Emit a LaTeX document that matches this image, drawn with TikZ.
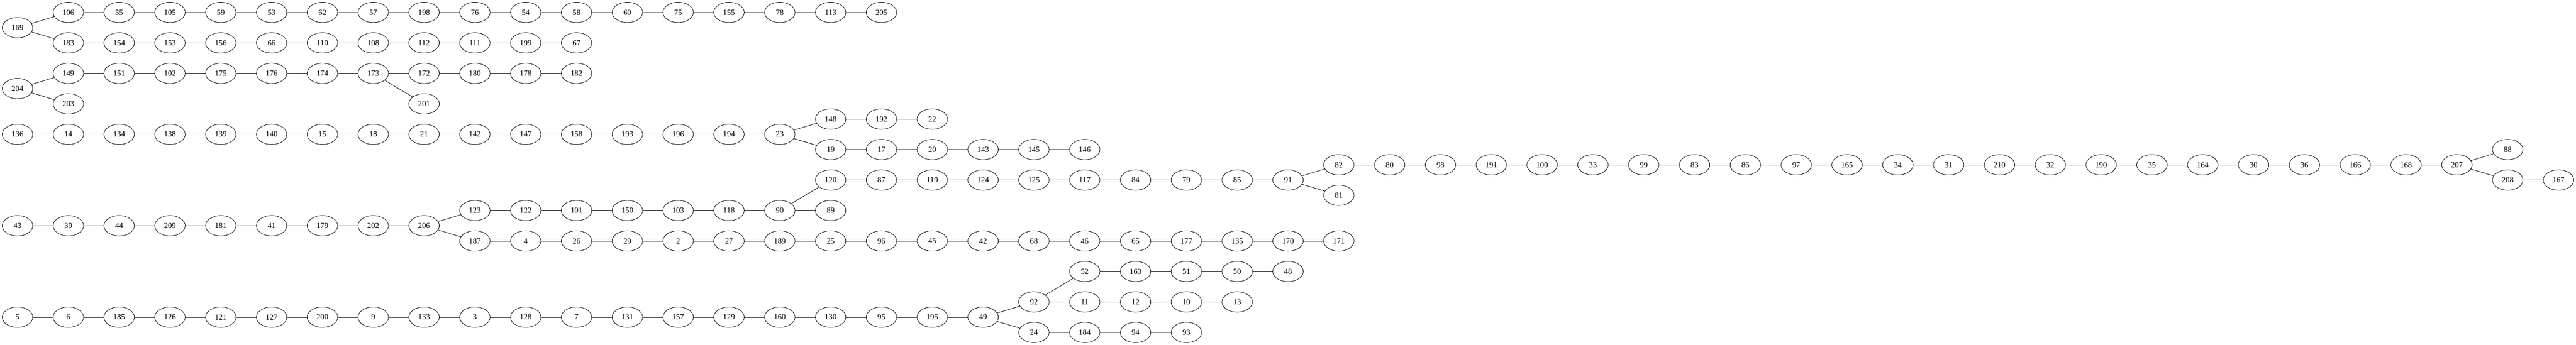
\documentclass[tikz,border=0pt]{standalone}
\usepackage{fontspec}
\setmainfont{Liberation Serif}
\usepackage{tikz}
\usetikzlibrary{shapes.geometric, positioning}

\begin{document}
\begin{tikzpicture}[
    x=90pt, y=-27pt,
    node distance=36pt,
    vert/.style={ellipse, draw, line width=0.75pt, minimum width=54pt, minimum height=36pt, inner sep=0pt, outer sep=0pt, font=\fontsize{14pt}{16pt}\selectfont},
    link/.style={draw, line width=0.75pt}
]
\useasboundingbox (-31pt,22pt) rectangle (4531pt,-589pt);

% Tree 169
\node[vert] (n169) at (0,1) {169};
\node[vert] (n106) at (1,0) {106};
\node[vert, right=of n106] (n55) {55};
\node[vert, right=of n55] (n105) {105};
\node[vert, right=of n105] (n59) {59};
\node[vert, right=of n59] (n53) {53};
\node[vert, right=of n53] (n62) {62};
\node[vert, right=of n62] (n57) {57};
\node[vert, right=of n57] (n198) {198};
\node[vert, right=of n198] (n76) {76};
\node[vert, right=of n76] (n54) {54};
\node[vert, right=of n54] (n58) {58};
\node[vert, right=of n58] (n60) {60};
\node[vert, right=of n60] (n75) {75};
\node[vert, right=of n75] (n155) {155};
\node[vert, right=of n155] (n78) {78};
\node[vert, right=of n78] (n113) {113};
\node[vert, right=of n113] (n205) {205};
\node[vert] (n183) at (1,2) {183};
\node[vert, right=of n183] (n154) {154};
\node[vert, right=of n154] (n153) {153};
\node[vert, right=of n153] (n156) {156};
\node[vert, right=of n156] (n66) {66};
\node[vert, right=of n66] (n110) {110};
\node[vert, right=of n110] (n108) {108};
\node[vert, right=of n108] (n112) {112};
\node[vert, right=of n112] (n111) {111};
\node[vert, right=of n111] (n199) {199};
\node[vert, right=of n199] (n67) {67};

% Tree 204
\node[vert] (n204) at (0,5) {204};
\node[vert] (n149) at (1,4) {149};
\node[vert, right=of n149] (n151) {151};
\node[vert, right=of n151] (n102) {102};
\node[vert, right=of n102] (n175) {175};
\node[vert, right=of n175] (n176) {176};
\node[vert, right=of n176] (n174) {174};
\node[vert, right=of n174] (n173) {173};
\node[vert, right=of n173] (n172) {172};
\node[vert, right=of n172] (n180) {180};
\node[vert, right=of n180] (n178) {178};
\node[vert, right=of n178] (n182) {182};
\node[vert] (n201) at (8,6) {201};
\node[vert] (n203) at (1,6) {203};

% Tree 136
\node[vert] (n136) at (0,8) {136};
\node[vert, right=of n136] (n14) {14};
\node[vert, right=of n14] (n134) {134};
\node[vert, right=of n134] (n138) {138};
\node[vert, right=of n138] (n139) {139};
\node[vert, right=of n139] (n140) {140};
\node[vert, right=of n140] (n15) {15};
\node[vert, right=of n15] (n18) {18};
\node[vert, right=of n18] (n21) {21};
\node[vert, right=of n21] (n142) {142};
\node[vert, right=of n142] (n147) {147};
\node[vert, right=of n147] (n158) {158};
\node[vert, right=of n158] (n193) {193};
\node[vert, right=of n193] (n196) {196};
\node[vert, right=of n196] (n194) {194};
\node[vert, right=of n194] (n23) {23};
\node[vert] (n148) at (16,7) {148};
\node[vert, right=of n148] (n192) {192};
\node[vert, right=of n192] (n22) {22};
\node[vert] (n19) at (16,9) {19};
\node[vert, right=of n19] (n17) {17};
\node[vert, right=of n17] (n20) {20};
\node[vert, right=of n20] (n143) {143};
\node[vert, right=of n143] (n145) {145};
\node[vert, right=of n145] (n146) {146};

% Tree 43
\node[vert] (n43) at (0,14) {43};
\node[vert, right=of n43] (n39) {39};
\node[vert, right=of n39] (n44) {44};
\node[vert, right=of n44] (n209) {209};
\node[vert, right=of n209] (n181) {181};
\node[vert, right=of n181] (n41) {41};
\node[vert, right=of n41] (n179) {179};
\node[vert, right=of n179] (n202) {202};
\node[vert, right=of n202] (n206) {206};
\node[vert] (n123) at (9,13) {123};
\node[vert, right=of n123] (n122) {122};
\node[vert, right=of n122] (n101) {101};
\node[vert, right=of n101] (n150) {150};
\node[vert, right=of n150] (n103) {103};
\node[vert, right=of n103] (n118) {118};
\node[vert, right=of n118] (n90) {90};
\node[vert, right=of n90] (n89) {89};
\node[vert] (n120) at (16,11) {120};
\node[vert, right=of n120] (n87) {87};
\node[vert, right=of n87] (n119) {119};
\node[vert, right=of n119] (n124) {124};
\node[vert, right=of n124] (n125) {125};
\node[vert, right=of n125] (n117) {117};
\node[vert, right=of n117] (n84) {84};
\node[vert, right=of n84] (n79) {79};
\node[vert, right=of n79] (n85) {85};
\node[vert, right=of n85] (n91) {91};
\node[vert] (n82) at (26,10) {82};
\node[vert, right=of n82] (n80) {80};
\node[vert, right=of n80] (n98) {98};
\node[vert, right=of n98] (n191) {191};
\node[vert, right=of n191] (n100) {100};
\node[vert, right=of n100] (n33) {33};
\node[vert, right=of n33] (n99) {99};
\node[vert, right=of n99] (n83) {83};
\node[vert, right=of n83] (n86) {86};
\node[vert, right=of n86] (n97) {97};
\node[vert, right=of n97] (n165) {165};
\node[vert, right=of n165] (n34) {34};
\node[vert, right=of n34] (n31) {31};
\node[vert, right=of n31] (n210) {210};
\node[vert, right=of n210] (n32) {32};
\node[vert, right=of n32] (n190) {190};
\node[vert, right=of n190] (n35) {35};
\node[vert, right=of n35] (n164) {164};
\node[vert, right=of n164] (n30) {30};
\node[vert, right=of n30] (n36) {36};
\node[vert, right=of n36] (n166) {166};
\node[vert, right=of n166] (n168) {168};
\node[vert, right=of n168] (n207) {207};
\node[vert] (n88) at (49,9) {88};
\node[vert] (n208) at (49,11) {208};
\node[vert, right=of n208] (n167) {167};
\node[vert] (n81) at (26,12) {81};
\node[vert] (n187) at (9,15) {187};
\node[vert, right=of n187] (n4) {4};
\node[vert, right=of n4] (n26) {26};
\node[vert, right=of n26] (n29) {29};
\node[vert, right=of n29] (n2) {2};
\node[vert, right=of n2] (n27) {27};
\node[vert, right=of n27] (n189) {189};
\node[vert, right=of n189] (n25) {25};
\node[vert, right=of n25] (n96) {96};
\node[vert, right=of n96] (n45) {45};
\node[vert, right=of n45] (n42) {42};
\node[vert, right=of n42] (n68) {68};
\node[vert, right=of n68] (n46) {46};
\node[vert, right=of n46] (n65) {65};
\node[vert, right=of n65] (n177) {177};
\node[vert, right=of n177] (n135) {135};
\node[vert, right=of n135] (n170) {170};
\node[vert, right=of n170] (n171) {171};

% Tree 5
\node[vert] (n5) at (0,20) {5};
\node[vert, right=of n5] (n6) {6};
\node[vert, right=of n6] (n185) {185};
\node[vert, right=of n185] (n126) {126};
\node[vert, right=of n126] (n121) {121};
\node[vert, right=of n121] (n127) {127};
\node[vert, right=of n127] (n200) {200};
\node[vert, right=of n200] (n9) {9};
\node[vert, right=of n9] (n133) {133};
\node[vert, right=of n133] (n3) {3};
\node[vert, right=of n3] (n128) {128};
\node[vert, right=of n128] (n7) {7};
\node[vert, right=of n7] (n131) {131};
\node[vert, right=of n131] (n157) {157};
\node[vert, right=of n157] (n129) {129};
\node[vert, right=of n129] (n160) {160};
\node[vert, right=of n160] (n130) {130};
\node[vert, right=of n130] (n95) {95};
\node[vert, right=of n95] (n195) {195};
\node[vert, right=of n195] (n49) {49};
\node[vert] (n92) at (20,19) {92};
\node[vert, right=of n92] (n11) {11};
\node[vert, right=of n11] (n12) {12};
\node[vert, right=of n12] (n10) {10};
\node[vert, right=of n10] (n13) {13};
\node[vert] (n52) at (21,17) {52};
\node[vert, right=of n52] (n163) {163};
\node[vert, right=of n163] (n51) {51};
\node[vert, right=of n51] (n50) {50};
\node[vert, right=of n50] (n48) {48};
\node[vert] (n24) at (20,21) {24};
\node[vert, right=of n24] (n184) {184};
\node[vert, right=of n184] (n94) {94};
\node[vert, right=of n94] (n93) {93};

% Links, tree 169
\draw[link] (n169) -- (n106);
\draw[link] (n106) -- (n55);
\draw[link] (n55) -- (n105);
\draw[link] (n105) -- (n59);
\draw[link] (n59) -- (n53);
\draw[link] (n53) -- (n62);
\draw[link] (n62) -- (n57);
\draw[link] (n57) -- (n198);
\draw[link] (n198) -- (n76);
\draw[link] (n76) -- (n54);
\draw[link] (n54) -- (n58);
\draw[link] (n58) -- (n60);
\draw[link] (n60) -- (n75);
\draw[link] (n75) -- (n155);
\draw[link] (n155) -- (n78);
\draw[link] (n78) -- (n113);
\draw[link] (n113) -- (n205);
\draw[link] (n169) -- (n183);
\draw[link] (n183) -- (n154);
\draw[link] (n154) -- (n153);
\draw[link] (n153) -- (n156);
\draw[link] (n156) -- (n66);
\draw[link] (n66) -- (n110);
\draw[link] (n110) -- (n108);
\draw[link] (n108) -- (n112);
\draw[link] (n112) -- (n111);
\draw[link] (n111) -- (n199);
\draw[link] (n199) -- (n67);

% Links, tree 204
\draw[link] (n204) -- (n149);
\draw[link] (n149) -- (n151);
\draw[link] (n151) -- (n102);
\draw[link] (n102) -- (n175);
\draw[link] (n175) -- (n176);
\draw[link] (n176) -- (n174);
\draw[link] (n174) -- (n173);
\draw[link] (n173) -- (n172);
\draw[link] (n172) -- (n180);
\draw[link] (n180) -- (n178);
\draw[link] (n178) -- (n182);
\draw[link] (n173) -- (n201);
\draw[link] (n204) -- (n203);

% Links, tree 136
\draw[link] (n136) -- (n14);
\draw[link] (n14) -- (n134);
\draw[link] (n134) -- (n138);
\draw[link] (n138) -- (n139);
\draw[link] (n139) -- (n140);
\draw[link] (n140) -- (n15);
\draw[link] (n15) -- (n18);
\draw[link] (n18) -- (n21);
\draw[link] (n21) -- (n142);
\draw[link] (n142) -- (n147);
\draw[link] (n147) -- (n158);
\draw[link] (n158) -- (n193);
\draw[link] (n193) -- (n196);
\draw[link] (n196) -- (n194);
\draw[link] (n194) -- (n23);
\draw[link] (n23) -- (n148);
\draw[link] (n148) -- (n192);
\draw[link] (n192) -- (n22);
\draw[link] (n23) -- (n19);
\draw[link] (n19) -- (n17);
\draw[link] (n17) -- (n20);
\draw[link] (n20) -- (n143);
\draw[link] (n143) -- (n145);
\draw[link] (n145) -- (n146);

% Links, tree 43
\draw[link] (n43) -- (n39);
\draw[link] (n39) -- (n44);
\draw[link] (n44) -- (n209);
\draw[link] (n209) -- (n181);
\draw[link] (n181) -- (n41);
\draw[link] (n41) -- (n179);
\draw[link] (n179) -- (n202);
\draw[link] (n202) -- (n206);
\draw[link] (n206) -- (n123);
\draw[link] (n123) -- (n122);
\draw[link] (n122) -- (n101);
\draw[link] (n101) -- (n150);
\draw[link] (n150) -- (n103);
\draw[link] (n103) -- (n118);
\draw[link] (n118) -- (n90);
\draw[link] (n90) -- (n89);
\draw[link] (n90) -- (n120);
\draw[link] (n120) -- (n87);
\draw[link] (n87) -- (n119);
\draw[link] (n119) -- (n124);
\draw[link] (n124) -- (n125);
\draw[link] (n125) -- (n117);
\draw[link] (n117) -- (n84);
\draw[link] (n84) -- (n79);
\draw[link] (n79) -- (n85);
\draw[link] (n85) -- (n91);
\draw[link] (n91) -- (n82);
\draw[link] (n91) -- (n81);
\draw[link] (n82) -- (n80);
\draw[link] (n80) -- (n98);
\draw[link] (n98) -- (n191);
\draw[link] (n191) -- (n100);
\draw[link] (n100) -- (n33);
\draw[link] (n33) -- (n99);
\draw[link] (n99) -- (n83);
\draw[link] (n83) -- (n86);
\draw[link] (n86) -- (n97);
\draw[link] (n97) -- (n165);
\draw[link] (n165) -- (n34);
\draw[link] (n34) -- (n31);
\draw[link] (n31) -- (n210);
\draw[link] (n210) -- (n32);
\draw[link] (n32) -- (n190);
\draw[link] (n190) -- (n35);
\draw[link] (n35) -- (n164);
\draw[link] (n164) -- (n30);
\draw[link] (n30) -- (n36);
\draw[link] (n36) -- (n166);
\draw[link] (n166) -- (n168);
\draw[link] (n168) -- (n207);
\draw[link] (n207) -- (n88);
\draw[link] (n207) -- (n208);
\draw[link] (n208) -- (n167);
\draw[link] (n206) -- (n187);
\draw[link] (n187) -- (n4);
\draw[link] (n4) -- (n26);
\draw[link] (n26) -- (n29);
\draw[link] (n29) -- (n2);
\draw[link] (n2) -- (n27);
\draw[link] (n27) -- (n189);
\draw[link] (n189) -- (n25);
\draw[link] (n25) -- (n96);
\draw[link] (n96) -- (n45);
\draw[link] (n45) -- (n42);
\draw[link] (n42) -- (n68);
\draw[link] (n68) -- (n46);
\draw[link] (n46) -- (n65);
\draw[link] (n65) -- (n177);
\draw[link] (n177) -- (n135);
\draw[link] (n135) -- (n170);
\draw[link] (n170) -- (n171);

% Links, tree 5
\draw[link] (n5) -- (n6);
\draw[link] (n6) -- (n185);
\draw[link] (n185) -- (n126);
\draw[link] (n126) -- (n121);
\draw[link] (n121) -- (n127);
\draw[link] (n127) -- (n200);
\draw[link] (n200) -- (n9);
\draw[link] (n9) -- (n133);
\draw[link] (n133) -- (n3);
\draw[link] (n3) -- (n128);
\draw[link] (n128) -- (n7);
\draw[link] (n7) -- (n131);
\draw[link] (n131) -- (n157);
\draw[link] (n157) -- (n129);
\draw[link] (n129) -- (n160);
\draw[link] (n160) -- (n130);
\draw[link] (n130) -- (n95);
\draw[link] (n95) -- (n195);
\draw[link] (n195) -- (n49);
\draw[link] (n49) -- (n92);
\draw[link] (n92) -- (n11);
\draw[link] (n11) -- (n12);
\draw[link] (n12) -- (n10);
\draw[link] (n10) -- (n13);
\draw[link] (n92) -- (n52);
\draw[link] (n52) -- (n163);
\draw[link] (n163) -- (n51);
\draw[link] (n51) -- (n50);
\draw[link] (n50) -- (n48);
\draw[link] (n49) -- (n24);
\draw[link] (n24) -- (n184);
\draw[link] (n184) -- (n94);
\draw[link] (n94) -- (n93);

\end{tikzpicture}
\end{document}
